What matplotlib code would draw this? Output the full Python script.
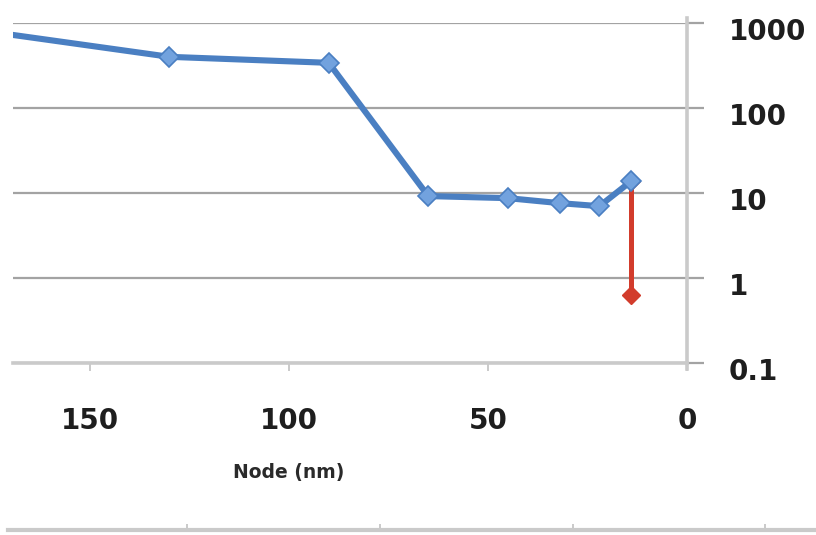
import matplotlib.pyplot as plt
from matplotlib.transforms import ScaledTranslation


NODES = [180, 130, 90, 65, 45, 32, 22, 14]
VALUES = [850, 400, 340, 9.2, 8.7, 7.6, 7.0, 13.8]

DROP_NODES = [14, 14]
DROP_VALUES = [13.8, 0.63]

X_TICKS = [150, 100, 50, 0]
Y_TICKS = [0.1, 1, 10, 100, 1000]
Y_TICK_LABELS = ["0.1", "1", "10", "100", "1000"]

LINE_BLUE = "#4a7fc2"
MARKER_BLUE = "#72a2de"
DROP_RED = "#d23c2c"
GRID_GRAY = "#a3a3a3"
AXIS_GRAY = "#cacaca"
TEXT_DARK = "#1e1e1e"


fig = plt.figure(figsize=(8.16, 5.35), dpi=100)
fig.patch.set_facecolor("white")

ax = fig.add_axes([13 / 816, 1 - 363 / 535, 674 / 816, 340 / 535])
ax.set_facecolor("white")

ax.set_yscale("log")
ax.set_ylim(0.1, 1000)
ax.set_xlim(169.3, 0)

ax.plot(
    DROP_NODES,
    DROP_VALUES,
    color=DROP_RED,
    linewidth=3.6,
    marker="D",
    markersize=9.5,
    markerfacecolor=DROP_RED,
    markeredgecolor=DROP_RED,
    zorder=3,
    clip_on=False
)

ax.plot(
    NODES,
    VALUES,
    color=LINE_BLUE,
    linewidth=4.4,
    marker="D",
    markersize=10,
    markerfacecolor=MARKER_BLUE,
    markeredgecolor=LINE_BLUE,
    markeredgewidth=1.2,
    solid_joinstyle="round",
    zorder=4
)

# Excel-style frame: only the value axis on the right and the category axis at the bottom
for side in ("left", "top"):
    ax.spines[side].set_visible(False)
for side in ("right", "bottom"):
    ax.spines[side].set_color(AXIS_GRAY)
    ax.spines[side].set_linewidth(2.6)
ax.spines["right"].set_bounds(0.085, 1150)

ax.yaxis.tick_right()
ax.set_yticks(Y_TICKS)
ax.set_yticklabels(Y_TICK_LABELS)
ax.yaxis.set_minor_locator(plt.NullLocator())
ax.grid(axis="y", color=GRID_GRAY, linewidth=1.6)
ax.tick_params(
    axis="y",
    which="major",
    direction="out",
    length=12,
    width=1.6,
    color=GRID_GRAY,
    pad=18,
    labelsize=20,
    labelcolor=TEXT_DARK
)

ax.set_xticks(X_TICKS)
ax.tick_params(
    axis="x",
    direction="out",
    length=6,
    width=1.4,
    color=AXIS_GRAY,
    pad=26,
    labelsize=20,
    labelcolor=TEXT_DARK
)

for label in ax.get_xticklabels() + ax.get_yticklabels():
    label.set_fontweight("bold")

# value labels sit a little below their gridlines
shift = ScaledTranslation(0, -4 / 72, fig.dpi_scale_trans)
for label in ax.get_yticklabels():
    label.set_transform(label.get_transform() + shift)

ax.set_xlabel("Node (nm)", fontsize=13.5, fontweight="bold", color="#2a2a2a", va="center")
ax.xaxis.set_label_coords(0.4095, -0.3235)

# neighbouring chart's axis running along the bottom edge
deco = fig.add_axes([8 / 816, 0, 1 - 8 / 816, 5 / 535])
deco.set_xlim(0, 808)
deco.set_ylim(0, 1)
deco.patch.set_visible(False)
for side in ("left", "right", "bottom"):
    deco.spines[side].set_visible(False)
deco.spines["top"].set_color(AXIS_GRAY)
deco.spines["top"].set_linewidth(3)
deco.xaxis.tick_top()
deco.set_xticks([179, 372, 565, 757])
deco.set_xticklabels([])
deco.set_yticks([])
deco.tick_params(axis="x", direction="out", length=4, width=1.4, color=AXIS_GRAY)

fig.savefig("out.png", dpi=100)
